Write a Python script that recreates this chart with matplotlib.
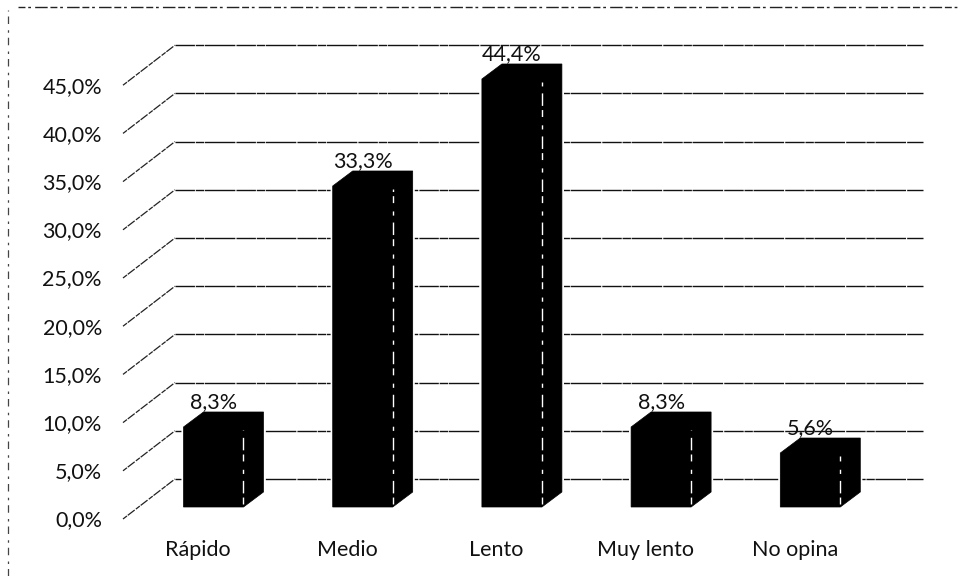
"""Recreate the 3D-style column chart (scanned look)."""
import matplotlib
matplotlib.use("Agg")
import matplotlib.pyplot as plt
from matplotlib.patches import Polygon

categories = ["Rápido", "Medio", "Lento", "Muy lento", "No opina"]
values = [8.3, 33.3, 44.4, 8.3, 5.6]
value_labels = ["8,3%", "33,3%", "44,4%", "8,3%", "5,6%"]
ticks = [0, 5, 10, 15, 20, 25, 30, 35, 40, 45]
tick_labels = ["0,0%", "5,0%", "10,0%", "15,0%", "20,0%",
               "25,0%", "30,0%", "35,0%", "40,0%", "45,0%"]

W, H = 958, 576
PX_CAT = 149.2
PX_VAL = 9.64
X0_PX, Y0_PX = 213.5, 507
FONT_SIZE = 15.5

# depth offsets, in data units
BAR_W = 60 / PX_CAT
BAR_DX, BAR_DY = 20 / PX_CAT, 15 / PX_VAL
FLOOR_X = (123 - X0_PX) / PX_CAT
BACK_X = (175 - X0_PX) / PX_CAT
RIGHT_X = (923 - X0_PX) / PX_CAT
FRONT_DY = -12 / PX_VAL
BACK_DY = 28 / PX_VAL
LABEL_X = (102 - X0_PX) / PX_CAT

plt.rcParams["font.family"] = ["Lato", "DejaVu Sans"]

fig = plt.figure(figsize=(W / 100, H / 100), dpi=100)
ax = fig.add_axes([0, 0, 1, 1])
ax.set_xlim(-X0_PX / PX_CAT, (W - X0_PX) / PX_CAT)
ax.set_ylim((Y0_PX - H) / PX_VAL, Y0_PX / PX_VAL)
ax.axis("off")

dash = (0, (14, 0.6, 6, 0.5, 22, 0.8))
for t, lab in zip(ticks, tick_labels):
    ax.plot([FLOOR_X, BACK_X], [t + FRONT_DY, t + BACK_DY], color="#222222",
            lw=0.9, ls=(0, (4, 0.8, 7, 1.2)), zorder=1)
    ax.plot([BACK_X, RIGHT_X], [t + BACK_DY, t + BACK_DY], color="#111111",
            lw=1.0, ls=dash, zorder=1)
    ax.text(LABEL_X, t + FRONT_DY - 0.15, lab, ha="right", va="center",
            fontsize=FONT_SIZE, color="#111111")

for i, (v, lab) in enumerate(zip(values, value_labels)):
    l, r = i - BAR_W / 2, i + BAR_W / 2
    outline = [(l, 0), (r, 0), (r + BAR_DX, BAR_DY), (r + BAR_DX, v + BAR_DY),
               (l + BAR_DX, v + BAR_DY), (l, v)]
    # white halo keeps the grid lines just clear of the bar
    ax.add_patch(Polygon(outline, facecolor="white", edgecolor="white", lw=3, zorder=2))
    ax.add_patch(Polygon(outline, facecolor="black", edgecolor="black", lw=0.5, zorder=3))
    # scanner speckle down the front right edge
    ax.plot([r, r], [0.3, v - 0.3], color="white", lw=1,
            ls=(0, (5, 3, 9, 5, 3, 6)), zorder=4)
    ax.text(i, v + BAR_DY + 10 / PX_VAL, lab, ha="center", va="center",
            fontsize=FONT_SIZE, color="#111111", zorder=5)
    ax.text(i - 15.5 / PX_CAT, -43 / PX_VAL, categories[i], ha="center", va="center",
            fontsize=FONT_SIZE, color="#111111")

# dashed chart frame left by the scan
ax.plot([(18 - X0_PX) / PX_CAT, (W - X0_PX) / PX_CAT], [(Y0_PX - 7) / PX_VAL] * 2,
        color="#222222", lw=1, ls=(0, (5, 2, 2, 3, 9, 2)), zorder=1)
ax.plot([(8 - X0_PX) / PX_CAT] * 2, [(Y0_PX - H) / PX_VAL, (Y0_PX - 10) / PX_VAL],
        color="#444444", lw=0.9, ls=(0, (6, 4, 2, 5)), zorder=1)

fig.savefig("out.png", dpi=100)
